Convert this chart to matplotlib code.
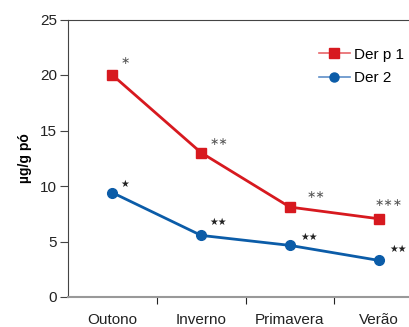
import numpy as np
import matplotlib.pyplot as plt
from matplotlib.lines import Line2D

plt.rcParams['font.family'] = ['Liberation Sans', 'DejaVu Sans']

seasons = ["Outono", "Inverno", "Primavera", "Verão"]
der_p1 = [20.0, 13.0, 8.1, 7.05]
der_2 = [9.4, 5.55, 4.65, 3.3]
stars_p1 = ["∗", "∗∗", "∗∗", "∗∗∗"]
stars_2 = ["★", "★★", "★★", "★★"]

red = "#d7191f"
blue = "#0b5ca8"

fig = plt.figure(figsize=(4.09, 3.27), dpi=100)
# axes runs a bit past the right edge of the figure
ax = fig.add_axes([68/409, 30/327, 355/409, 277.5/327])

x = np.arange(len(seasons))
ax.plot(x, der_p1, color=red, lw=2, marker="s", ms=7.5, clip_on=False)
ax.plot(x, der_2, color=blue, lw=2, marker="o", ms=7, clip_on=False)

# significance marks, offset in pixels from each point
off_p1 = [(13, 14), (18, 11), (26, 12), (10, 16)]
off_2 = [(12, 9), (17, 13), (19, 8), (19, 11)]
for i in x:
    ax.annotate(stars_p1[i], (i, der_p1[i]), xytext=off_p1[i], textcoords="offset pixels",
                color="#555555", fontsize=8, ha="center", va="center", family=["DejaVu Sans"])
    ax.annotate(stars_2[i], (i, der_2[i]), xytext=off_2[i], textcoords="offset pixels",
                color="#222222", fontsize=7, ha="center", va="center", family=["DejaVu Sans"])

ax.set_xlim(-0.5, 3.5)
ax.set_ylim(0, 25)
ax.set_yticks([0, 5, 10, 15, 20, 25])
ax.set_xticks([0.5, 1.5, 2.5])
ax.set_xticklabels([])
for i, s in enumerate(seasons):
    ax.text(i, -1.45, s, ha="center", va="top", fontsize=11, color="#222222")

ax.spines["right"].set_visible(False)
for sp in ["left", "top"]:
    ax.spines[sp].set_color("#444444")
ax.spines["bottom"].set_color("#999999")
ax.spines["bottom"].set_linewidth(1.5)
ax.tick_params(axis="y", direction="out", length=6, labelsize=11, colors="#444444",
               labelcolor="#222222", pad=2)
ax.tick_params(axis="x", direction="out", length=5, colors="#222222")
ax.set_ylabel("µg/g pó", fontsize=10, fontweight="bold", labelpad=6)

handles = [
    Line2D([], [], color="#e8666a", lw=1.2, marker="s", ms=7, mfc=red, mec=red),
    Line2D([], [], color="#5f8fc8", lw=1.2, marker="o", ms=6.5, mfc=blue, mec=blue),
]
ax.legend(handles, ["Der p 1", "Der 2"], loc="upper left", bbox_to_anchor=(0.69, 0.92),
          frameon=False, fontsize=11, handlelength=2.0, handletextpad=0.3,
          labelspacing=0.6, borderaxespad=0)

fig.savefig("out.png", dpi=100)
